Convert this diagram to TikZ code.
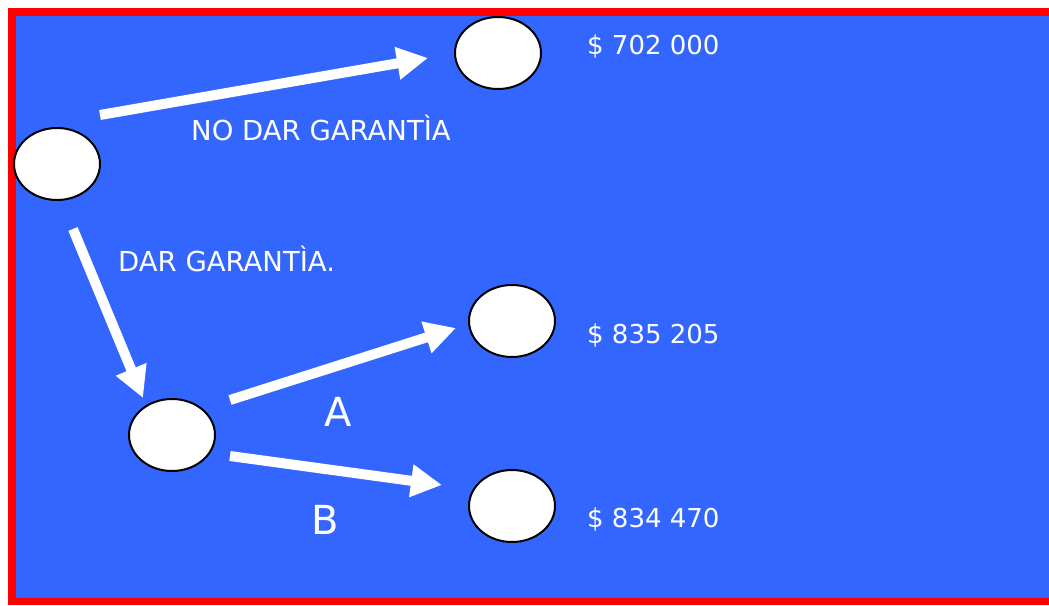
\documentclass[tikz,border=0pt]{standalone}
\usepackage{fontspec}
\setmainfont{DejaVu Sans}
\usetikzlibrary{arrows.meta,shapes.geometric}
\definecolor{panelblue}{HTML}{3366FF}
\definecolor{framered}{HTML}{FF0000}
\tikzset{
  decision/.style={ellipse, draw=black, line width=2pt, fill=white,
    minimum width=86pt, minimum height=72pt, inner sep=0pt},
  branch/.style={draw=white, line width=10pt,
    -{Triangle[length=31pt,width=31pt]}, fill=white},
  label/.style={text=white, inner sep=0pt, font=\fontsize{27.5}{32}\selectfont},
  payoff/.style={text=white, inner sep=0pt, anchor=base west,
    font=\fontsize{26}{30}\selectfont},
  option/.style={text=white, inner sep=0pt, anchor=base,
    font=\fontsize{40}{46}\selectfont}
}
\begin{document}
\begin{tikzpicture}[x=1pt,y=-1pt]
  \useasboundingbox (0,0) rectangle (1049,605);
  \clip (0,0) rectangle (1049,605);
  % framed blue panel (right edge runs off the page)
  \draw[framered, line width=7.5pt, fill=panelblue] (11.75,11.75) rectangle (1070,601.5);

  % decision and outcome nodes
  \node[decision] (root) at (57,164) {};
  \node[decision] (keep) at (498,53) {};
  \node[decision] (give) at (172,435) {};
  \node[decision] (optA) at (512,321) {};
  \node[decision] (optB) at (512,506) {};

  % arrow end points
  \coordinate (r1) at (100,115);
  \coordinate (k1) at (428,58);
  \coordinate (r2) at (73,229);
  \coordinate (g1) at (143,398);
  \coordinate (g2) at (230,400);
  \coordinate (a1) at (456,328);
  \coordinate (g3) at (230,456);
  \coordinate (b1) at (442,485);

  \draw[branch] (r1) -- (k1);
  \draw[branch] (r2) -- (g1);
  \draw[branch] (g2) -- (a1);
  \draw[branch] (g3) -- (b1);

  % branch labels
  \node[label, anchor=base west] (lno) at (191,140) {NO DAR GARANTÌA};
  \node[label, anchor=base west] (lyes) at (118,271) {DAR GARANTÌA.};
  \node[option] (la) at (338,426) {A};
  \node[option] (lb) at (325,534) {B};

  % payoffs
  \node[payoff] (p1) at (587,54) {\$ 702 000};
  \node[payoff] (p2) at (587,343) {\$ 835 205};
  \node[payoff] (p3) at (587,527) {\$ 834 470};
\end{tikzpicture}
\end{document}
